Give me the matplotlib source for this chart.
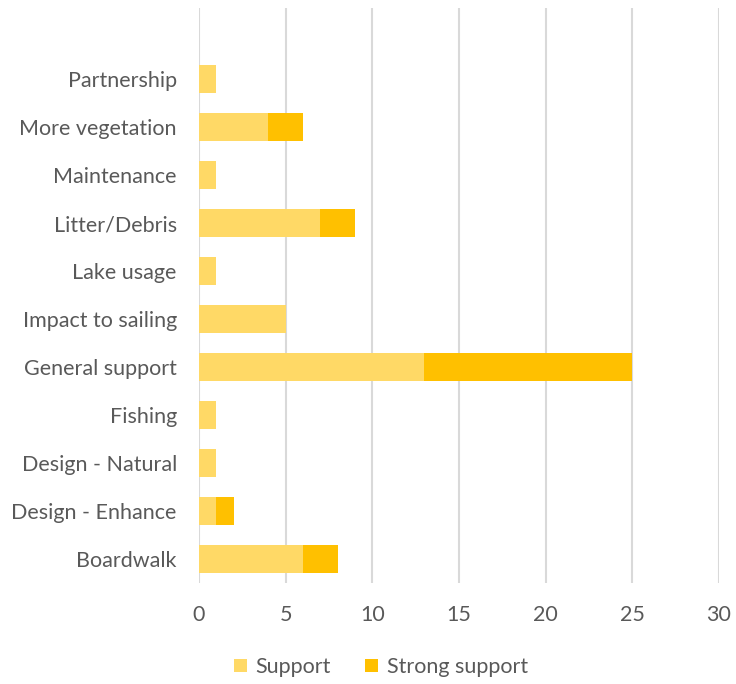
import matplotlib
matplotlib.use("Agg")
import matplotlib.pyplot as plt
import numpy as np

categories = ["Boardwalk", "Design - Enhance", "Design - Natural", "Fishing",
              "General support", "Impact to sailing", "Lake usage", "Litter/Debris",
              "Maintenance", "More vegetation", "Partnership"]
support = [6, 1, 1, 1, 13, 5, 1, 7, 1, 4, 1]
strong_support = [2, 1, 0, 0, 12, 0, 0, 2, 0, 2, 0]
xticks = [0, 5, 10, 15, 20, 25, 30]

plt.rcParams['font.family'] = ['Lato', 'DejaVu Sans']
txt = '#595959'
fs = 15.5

fig = plt.figure(figsize=(7.36, 6.84), dpi=100)
ax = fig.add_axes([199/736, 1 - 583/684, (719 - 199)/736, (583 - 8)/684])

y = np.arange(len(categories))
ax.barh(y, support, height=0.6, color='#FFD966', label='Support', zorder=3)
ax.barh(y, strong_support, left=support, height=0.6, color='#FFC000',
        label='Strong support', zorder=3)

ax.set_xlim(0, 30)
ax.set_ylim(-0.5, 11.48)
ax.set_xticks(xticks)
ax.set_yticks(y)
ax.set_yticklabels(categories)
ax.tick_params(axis='both', length=0, labelsize=fs, colors=txt)
ax.tick_params(axis='x', pad=16)
ax.tick_params(axis='y', pad=16)
ax.grid(axis='x', color='#D9D9D9', linewidth=1.5, zorder=0)
for s in ax.spines.values():
    s.set_visible(False)

fig.legend(loc='center', bbox_to_anchor=(381/736, 1 - 667/684), ncol=2, frameon=False,
           fontsize=fs, labelcolor=txt, handlelength=0.6, handleheight=0.6,
           handletextpad=0.4, columnspacing=1.6)

fig.savefig('out.png', dpi=100)
